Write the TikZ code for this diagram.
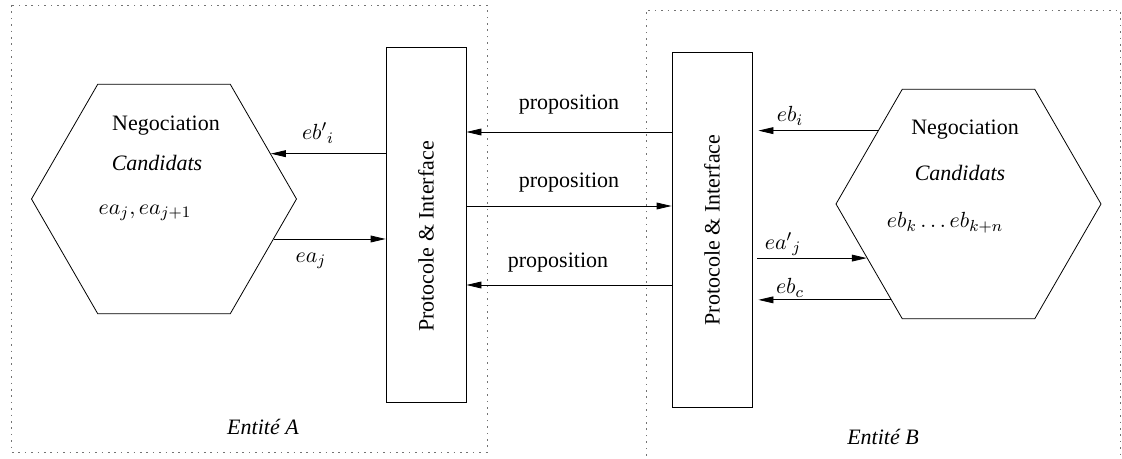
\documentclass[tikz,border=0pt]{standalone}
\usepackage{fontspec}
\setmainfont{Liberation Serif}
\usepackage{amsmath}
\usetikzlibrary{arrows.meta}
\usetikzlibrary{shapes.geometric}
\definecolor{dotgray}{rgb}{0.45,0.45,0.45}

\begin{document}
\begin{tikzpicture}[x=0.5pt,y=-0.5pt,
    every node/.style={font=\fontsize{11}{13}\selectfont},
    hexa/.style={draw,regular polygon,regular polygon sides=6,minimum size=132.5pt,inner sep=0pt},
    protobox/.style={draw,minimum width=40pt,minimum height=177.5pt,inner sep=0pt},
    entity/.style={draw=dotgray,dash pattern=on 0.8pt off 2.4pt},
    arr/.style={-{Triangle[length=7.5pt,width=3.4pt]}}]
      \useasboundingbox (0,0) rectangle (1122,459);

      % entites
      \draw[entity] (11,5) rectangle (487,452);
      \draw[entity] (646,462) -- (646,10) -- (1120,10) -- (1120,462);
      \node (entA) at (263,427) {\textit{Entité A}};
      \node (entB) at (883,437) {\textit{Entité B}};

      % entite A
      \node[hexa] (hexA) at (164,199) {};
      \node (negA) at (166,126) {Negociation};
      \node (candA) at (157,163) {\textit{Candidats}};
      \node (valA) at (145,213) {$ea_j, ea_{j+1}$};
      \node[protobox] (pA) at (426,224.5) {};
      \node[rotate=90] (tA) at (426,236.5) {Protocole \& Interface};

      % entite B
      \node[hexa] (hexB) at (968.5,204) {};
      \node (negB) at (965,130) {Negociation};
      \node (candB) at (960,173) {\textit{Candidats}};
      \node (valB) at (945,223) {$eb_k\ldots eb_{k+n}$};
      \node[protobox] (pB) at (712,229.5) {};
      \node[rotate=90] (tB) at (712,230) {Protocole \& Interface};

      % A <-> protocole A
      \draw[arr] (pA.west |- hexA.23) -- (hexA.23);
      \node (lbA1) at (318,133) {$eb'{}_i$};
      \draw[arr] (hexA.340) -- (pA.west |- hexA.340);
      \node (lbA2) at (311,261) {$ea_j$};

      % B <-> protocole B
      \draw[arr,shorten >=3pt] (hexB.141.6) -- (pB.east |- hexB.141.6);
      \node (lbB1) at (790,116) {$eb_i$};
      \draw[arr,shorten <=2.5pt] (pB.east |- hexB.208.6) -- (hexB.208.6);
      \node (lbB2) at (783,244) {$ea'{}_j$};
      \draw[arr,shorten >=3pt] (hexB.231.7) -- (pB.east |- hexB.231.7);
      \node (lbB3) at (790,288) {$eb_c$};

      % propositions
      \coordinate (m1) at (569,132);
      \coordinate (m2) at (569,206);
      \coordinate (m3) at (569,285);
      \draw[arr] (pB.west |- m1) -- (pA.east |- m1);
      \node (prop1) at (569,105) {proposition};
      \draw[arr] (pA.east |- m2) -- (pB.west |- m2);
      \node (prop2) at (569,183) {proposition};
      \draw[arr] (pB.west |- m3) -- (pA.east |- m3);
      \node (prop3) at (558,263) {proposition};
\end{tikzpicture}
\end{document}
